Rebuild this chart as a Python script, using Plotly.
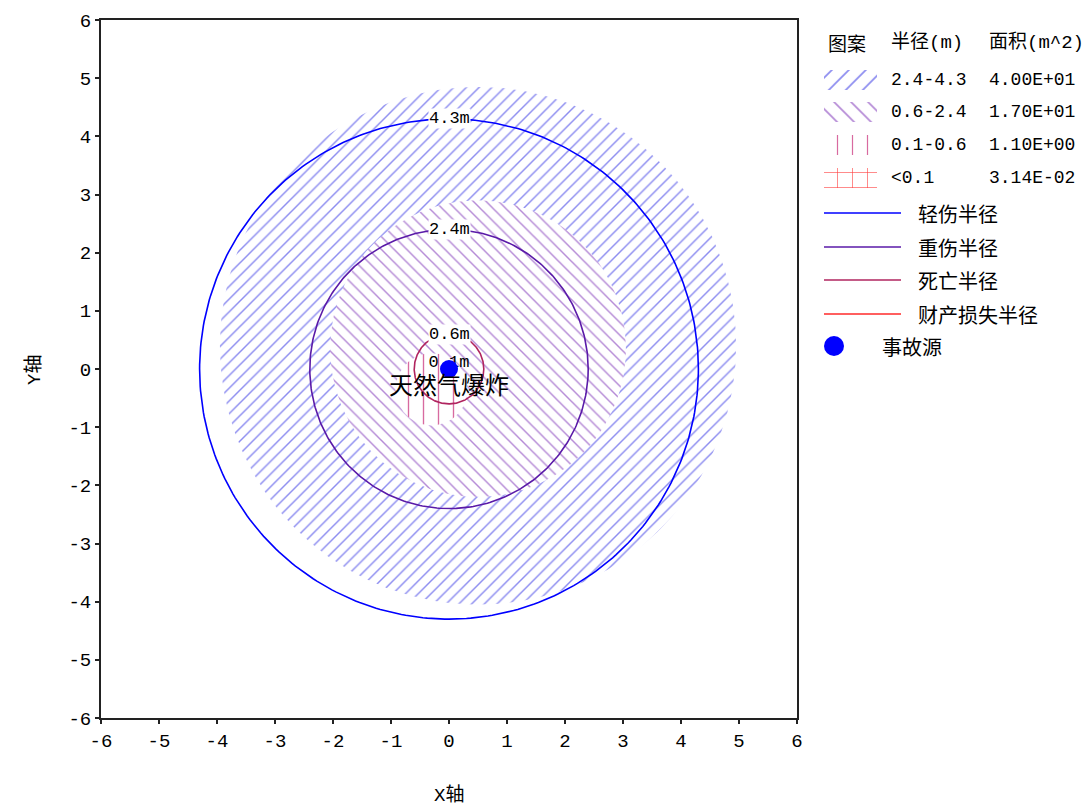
import numpy as np
import plotly.graph_objects as go

# ---------------- data ----------------
radii = [4.3, 2.4, 0.6, 0.1]
circle_names = ["轻伤半径", "重伤半径", "死亡半径", "财产损失半径"]
circle_labels = ["4.3m", "2.4m", "0.6m", "0.1m"]
circle_colors = ["#0000ff", "#5a1aa8", "#b0245f", "#ff2a2a"]

zone_ranges = ["2.4-4.3", "0.6-2.4", "0.1-0.6", "<0.1"]
zone_areas = ["4.00E+01", "1.70E+01", "1.10E+00", "3.14E-02"]
zone_cx = [0.5, 0.5, -0.3, 0.0]
zone_cy = [0.4, 0.35, -0.35, 0.0]
zone_r = [4.45, 2.55, 0.62, 0.1]
zone_shapes = ["/", "\\", "|", "+"]
zone_colors = ["#8c8cf0", "#b58ad6", "#d86aa0", "#ff4040"]
zone_sizes = [9, 9, 15, 8]

source_x = [0.0]
source_y = [0.0]
source_name = "事故源"
source_label = "天然气爆炸"

axis_ticks = list(range(-6, 7))
header = ["图案", "半径(m)", "面积(m^2)"]
x_title = "X轴"
y_title = "Y轴"

CJK = "Noto Sans CJK SC"
MONO = "Liberation Mono, Noto Sans CJK SC"

W, H = 1092, 812
L, R, T, B = 101, 797, 20, 718

fig = go.Figure()
theta = np.linspace(0, 2 * np.pi, 361)

# hatch zones
for cx, cy, r, shp, col, sz in zip(zone_cx, zone_cy, zone_r, zone_shapes, zone_colors, zone_sizes):
    fig.add_trace(go.Scatter(
        x=cx + r * np.cos(theta), y=cy + r * np.sin(theta),
        mode="lines", fill="toself", line=dict(width=0),
        fillpattern=dict(shape=shp, fgcolor=col, bgcolor="white", size=sz,
                         solidity=0.16 if shp != "|" else 0.09, fillmode="replace"),
        fillcolor="white",
        hoverinfo="skip", showlegend=False, xaxis="x", yaxis="y"))

# circles
for r, col in zip(radii, circle_colors):
    fig.add_trace(go.Scatter(
        x=r * np.cos(theta), y=r * np.sin(theta), mode="lines",
        line=dict(color=col, width=1.6), hoverinfo="skip", showlegend=False))

# small label (below the source marker)
fig.add_trace(go.Scatter(
    x=[0], y=[radii[3]], mode="text", text=[circle_labels[3]],
    textfont=dict(family=MONO, size=17, color="black"),
    textposition="middle center", showlegend=False, hoverinfo="skip"))

# accident source
fig.add_trace(go.Scatter(
    x=source_x, y=source_y, mode="markers",
    marker=dict(color="#0000ff", size=18), showlegend=False, hoverinfo="skip"))

annotations = []
for r, lab in zip(radii[:3], circle_labels[:3]):
    annotations.append(dict(x=0, y=r, xref="x", yref="y", text=lab, showarrow=False,
                            font=dict(family=MONO, size=17, color="black"),
                            bgcolor="white", borderpad=0, xanchor="center", yanchor="middle"))
annotations.append(dict(x=source_x[0], y=source_y[0] - 0.25, xref="x", yref="y", text=source_label,
                        showarrow=False, font=dict(family=CJK, size=24, color="black"),
                        xanchor="center", yanchor="middle"))

# axis titles
annotations.append(dict(x=(L + R) / 2 / W, y=1 - 795 / H, xref="paper", yref="paper", text=x_title,
                        showarrow=False, xanchor="center", yanchor="middle",
                        font=dict(family=MONO, size=19, color="black")))
annotations.append(dict(x=35 / W, y=1 - 370 / H, xref="paper", yref="paper", text=y_title,
                        showarrow=False, textangle=-90, xanchor="center", yanchor="middle",
                        font=dict(family=MONO, size=19, color="black")))

# ---------------- custom legend (pixel coordinates on x2/y2) ----------------
hdr_x = [826, 889, 987]
annotations.append(dict(x=hdr_x[0], y=42, xref="x2", yref="y2", text=header[0], showarrow=False,
                        xanchor="left", font=dict(family=CJK, size=19, color="black")))
annotations.append(dict(x=hdr_x[1], y=42, xref="x2", yref="y2", text=header[1], showarrow=False,
                        xanchor="left", font=dict(family=MONO, size=19, color="black")))
annotations.append(dict(x=hdr_x[2], y=42, xref="x2", yref="y2", text=header[2], showarrow=False,
                        xanchor="left", font=dict(family=MONO, size=19, color="black")))

zone_rows = [80, 112, 145, 178]
leg_sizes = [12, 12, 15, 15]
leg_solid = [0.14, 0.14, 0.08, 0.08]
for yc, shp, col, sz, so, rng, area in zip(zone_rows, zone_shapes, zone_colors, leg_sizes, leg_solid,
                                           zone_ranges, zone_areas):
    fig.add_trace(go.Scatter(
        x=[824, 877, 877, 824, 824], y=[yc - 10, yc - 10, yc + 10, yc + 10, yc - 10],
        mode="lines", fill="toself", line=dict(width=0),
        fillpattern=dict(shape=shp, fgcolor=col, bgcolor="white", size=sz,
                         solidity=so, fillmode="replace"),
        fillcolor="white", hoverinfo="skip", showlegend=False, xaxis="x2", yaxis="y2"))
    annotations.append(dict(x=hdr_x[1], y=yc, xref="x2", yref="y2", text=rng, showarrow=False,
                            xanchor="left", font=dict(family=MONO, size=18, color="black")))
    annotations.append(dict(x=hdr_x[2], y=yc, xref="x2", yref="y2", text=area, showarrow=False,
                            xanchor="left", font=dict(family=MONO, size=18, color="black")))

line_rows = [213, 247, 280, 314]
for yc, col, name in zip(line_rows, circle_colors, circle_names):
    fig.add_trace(go.Scatter(x=[824, 901], y=[yc, yc], mode="lines", line=dict(color=col, width=1.6),
                             hoverinfo="skip", showlegend=False, xaxis="x2", yaxis="y2"))
    annotations.append(dict(x=916, y=yc, xref="x2", yref="y2", text=name, showarrow=False,
                            xanchor="left", font=dict(family=CJK, size=20, color="black")))

fig.add_trace(go.Scatter(x=[834], y=[346], mode="markers", marker=dict(color="#0000ff", size=20),
                         hoverinfo="skip", showlegend=False, xaxis="x2", yaxis="y2"))
annotations.append(dict(x=880, y=346, xref="x2", yref="y2", text=source_name, showarrow=False,
                        xanchor="left", font=dict(family=CJK, size=20, color="black")))

axis_common = dict(range=[-6, 6], tickvals=axis_ticks, ticktext=[str(t) for t in axis_ticks],
                   ticks="outside", ticklen=4, tickwidth=1.5, tickcolor="#222",
                   showline=True, linecolor="#222", linewidth=2, mirror=True,
                   showgrid=False, zeroline=False, automargin=False,
                   tickfont=dict(family=MONO, size=19, color="black"), fixedrange=True)

fig.update_layout(
    width=W, height=H, margin=dict(l=0, r=0, t=0, b=0),
    paper_bgcolor="white", plot_bgcolor="white", showlegend=False,
    xaxis=dict(domain=[L / W, R / W], anchor="y", **axis_common),
    yaxis=dict(domain=[1 - B / H, 1 - T / H], anchor="x", **axis_common),
    xaxis2=dict(domain=[800 / W, 1], anchor="y2", range=[800, W], visible=False, fixedrange=True),
    yaxis2=dict(domain=[0, 1], anchor="x2", range=[H, 0], visible=False, fixedrange=True),
    annotations=annotations,
)

fig.write_html("out.html", config={"displayModeBar": False},
               post_script="document.body.style.margin='0';document.body.style.padding='0';"
                           "document.documentElement.style.overflow='hidden';")
